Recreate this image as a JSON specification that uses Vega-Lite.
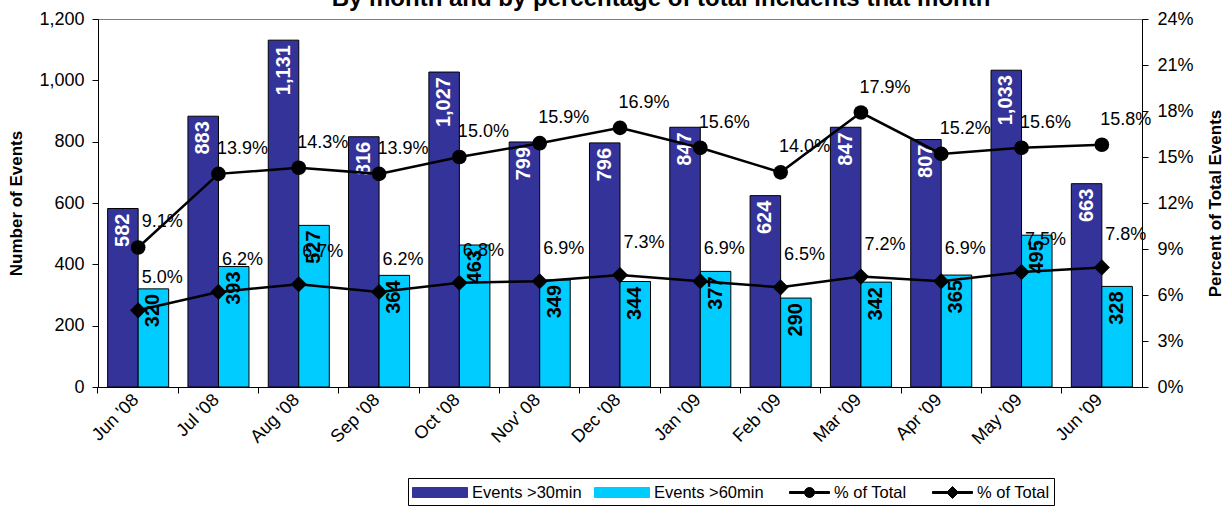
{
  "$schema": "https://vega.github.io/schema/vega-lite/v6.json",
  "width": 1044,
  "height": 368,
  "autosize": {"type": "none"},
  "padding": {"left": 98, "top": 19, "right": 88, "bottom": 119},
  "background": "white",
  "title": {
    "text": "By month and by percentage of total incidents that month",
    "fontSize": 24,
    "fontWeight": "bold",
    "font": "Liberation Sans",
    "color": "black",
    "anchor": "middle",
    "dx": 41,
    "dy": 22,
    "offset": 2,
    "baseline": "alphabetic"
  },
  "config": {
    "font": "Liberation Sans",
    "view": {"stroke": "#808080", "strokeWidth": 1},
    "axis": {
      "domainColor": "black",
      "tickColor": "black",
      "labelColor": "black",
      "titleColor": "black",
      "grid": false,
      "labelFontSize": 18,
      "titleFontSize": 17,
      "titleFontWeight": "bold",
      "labelFont": "Liberation Sans",
      "titleFont": "Liberation Sans"
    }
  },
  "data": {
    "values": [
      {"month": "Jun '08", "e30": 582, "e60": 320, "pct30": 0.091, "pct60": 0.050},
      {"month": "Jul '08", "e30": 883, "e60": 393, "pct30": 0.139, "pct60": 0.062},
      {"month": "Aug '08", "e30": 1131, "e60": 527, "pct30": 0.143, "pct60": 0.067},
      {"month": "Sep '08", "e30": 816, "e60": 364, "pct30": 0.139, "pct60": 0.062},
      {"month": "Oct '08", "e30": 1027, "e60": 463, "pct30": 0.150, "pct60": 0.068},
      {"month": "Nov' 08", "e30": 799, "e60": 349, "pct30": 0.159, "pct60": 0.069},
      {"month": "Dec '08", "e30": 796, "e60": 344, "pct30": 0.169, "pct60": 0.073},
      {"month": "Jan '09", "e30": 847, "e60": 377, "pct30": 0.156, "pct60": 0.069},
      {"month": "Feb '09", "e30": 624, "e60": 290, "pct30": 0.140, "pct60": 0.065},
      {"month": "Mar '09", "e30": 847, "e60": 342, "pct30": 0.179, "pct60": 0.072},
      {"month": "Apr '09", "e30": 807, "e60": 365, "pct30": 0.152, "pct60": 0.069},
      {"month": "May '09", "e30": 1033, "e60": 495, "pct30": 0.156, "pct60": 0.075},
      {"month": "Jun '09", "e30": 663, "e60": 328, "pct30": 0.158, "pct60": 0.078}
    ]
  },
  "encoding": {
    "x": {
      "field": "month",
      "type": "nominal",
      "sort": null,
      "scale": {"paddingInner": 0.24, "paddingOuter": 0.12},
      "axis": {
        "title": null,
        "labelAngle": -45,
        "labelAlign": "right",
        "labelBaseline": "middle",
        "bandPosition": -0.158,
        "labelOffset": -2,
        "tickSize": 6,
        "labelFontSize": 18,
        "labelPadding": 4
      }
    }
  },
  "layer": [
    {
      "transform": [{"fold": ["e30", "e60"], "as": ["series", "count"]}],
      "encoding": {
        "xOffset": {"field": "series", "type": "nominal"},
        "y": {
          "field": "count",
          "type": "quantitative",
          "scale": {"domain": [0, 1200], "nice": false},
          "axis": {
            "title": "Number of Events",
            "values": [0, 200, 400, 600, 800, 1000, 1200],
            "format": ",.0f",
            "tickSize": 6,
            "labelPadding": 8,
            "titlePadding": 13
          }
        }
      },
      "layer": [
        {
          "mark": {"type": "bar", "stroke": "black", "strokeWidth": 1},
          "encoding": {
            "color": {
              "field": "series",
              "type": "nominal",
              "scale": {"domain": ["e30", "e60", "pct30", "pct60"], "range": ["#333399", "#00CCFF", "black", "black"]},
              "legend": {
                "orient": "none",
                "legendX": 310,
                "legendY": 459,
                "direction": "horizontal",
                "title": null,
                "labelFontSize": 16.5,
                "labelFont": "Liberation Sans",
                "labelColor": "black",
                "strokeColor": "black",
                "fillColor": "white",
                "padding": 4,
                "columnPadding": 10,
                "symbolSize": 400,
                "symbolStrokeColor": "black",
                "symbolStrokeWidth": 1,
                "symbolOpacity": 1,
                "labelOffset": 39,
                "labelExpr": "datum.value == 'e30' ? 'Events >30min' : datum.value == 'e60' ? 'Events >60min' : '% of Total'"
              }
            }
          }
        },
        {
          "mark": {"type": "text", "angle": 270, "align": "right", "baseline": "middle", "dx": -5, "fontSize": 20, "fontWeight": "bold", "font": "Liberation Sans"},
          "encoding": {
            "text": {"field": "count", "type": "quantitative", "format": ","},
            "color": {"condition": {"test": "datum.series == 'e30'", "value": "white"}, "value": "black"}
          }
        }
      ]
    },
    {
      "transform": [{"fold": ["pct30", "pct60"], "as": ["series", "pct"]}],
      "encoding": {
        "y": {
          "field": "pct",
          "type": "quantitative",
          "scale": {"domain": [0, 0.24], "nice": false},
          "axis": {
            "orient": "right",
            "title": "Percent of Total Events",
            "values": [0, 0.03, 0.06, 0.09, 0.12, 0.15, 0.18, 0.21, 0.24],
            "format": ".0%",
            "tickSize": 6,
            "labelPadding": 9,
            "titlePadding": 14,
            "titleAngle": 270,
            "titleBaseline": "top"
          }
        }
      },
      "layer": [
        {
          "mark": {"type": "line", "strokeWidth": 2.5},
          "encoding": {
            "color": {"field": "series", "type": "nominal"}
          }
        },
        {
          "transform": [{"filter": "datum.series == 'pct30'"}],
          "mark": {"type": "point", "shape": "circle", "filled": true, "opacity": 1, "size": 215, "color": "black"}
        },
        {
          "transform": [{"filter": "datum.series == 'pct60'"}],
          "mark": {"type": "point", "shape": "diamond", "filled": true, "opacity": 1, "size": 260, "color": "black"}
        },
        {
          "transform": [{"filter": "datum.series == 'none'"}],
          "mark": {"type": "point", "filled": true, "opacity": 1},
          "encoding": {
            "color": {"field": "series", "type": "nominal"},
            "shape": {
              "field": "series",
              "type": "nominal",
              "scale": {
                "domain": ["e30", "e60", "pct30", "pct60"],
                "range": [
                  "M-1,-0.5H4.5V0.5H-1Z",
                  "M-1,-0.5H4.5V0.5H-1Z",
                  "M0.5,-0.1H4.5V0.1H0.5Z M2,0A0.5,0.5 0 1,1 3,0A0.5,0.5 0 1,1 2,0Z",
                  "M0.5,-0.1H4.5V0.1H0.5Z M2.5,-0.6L3.1,0L2.5,0.6L1.9,0Z"
                ]
              },
              "legend": {
                "orient": "none",
                "legendX": 310,
                "legendY": 459,
                "direction": "horizontal",
                "title": null,
                "labelFontSize": 16.5,
                "labelFont": "Liberation Sans",
                "labelColor": "black",
                "strokeColor": "black",
                "fillColor": "white",
                "padding": 4,
                "columnPadding": 10,
                "symbolSize": 400,
                "symbolStrokeColor": "black",
                "symbolStrokeWidth": 1,
                "symbolOpacity": 1,
                "labelOffset": 39,
                "labelExpr": "datum.value == 'e30' ? 'Events >30min' : datum.value == 'e60' ? 'Events >60min' : '% of Total'"
              }
            }
          }
        },
        {
          "transform": [{"filter": "datum.series == 'pct30'"}],
          "mark": {"type": "text", "dx": 24, "dy": -25, "fontSize": 18, "align": "center", "baseline": "middle", "color": "black"},
          "encoding": {"text": {"field": "pct", "type": "quantitative", "format": ".1%"}}
        },
        {
          "transform": [{"filter": "datum.series == 'pct60'"}],
          "mark": {"type": "text", "dx": 24, "dy": -32, "fontSize": 18, "align": "center", "baseline": "middle", "color": "black"},
          "encoding": {"text": {"field": "pct", "type": "quantitative", "format": ".1%"}}
        }
      ]
    }
  ],
  "resolve": {"scale": {"y": "independent"}}
}
